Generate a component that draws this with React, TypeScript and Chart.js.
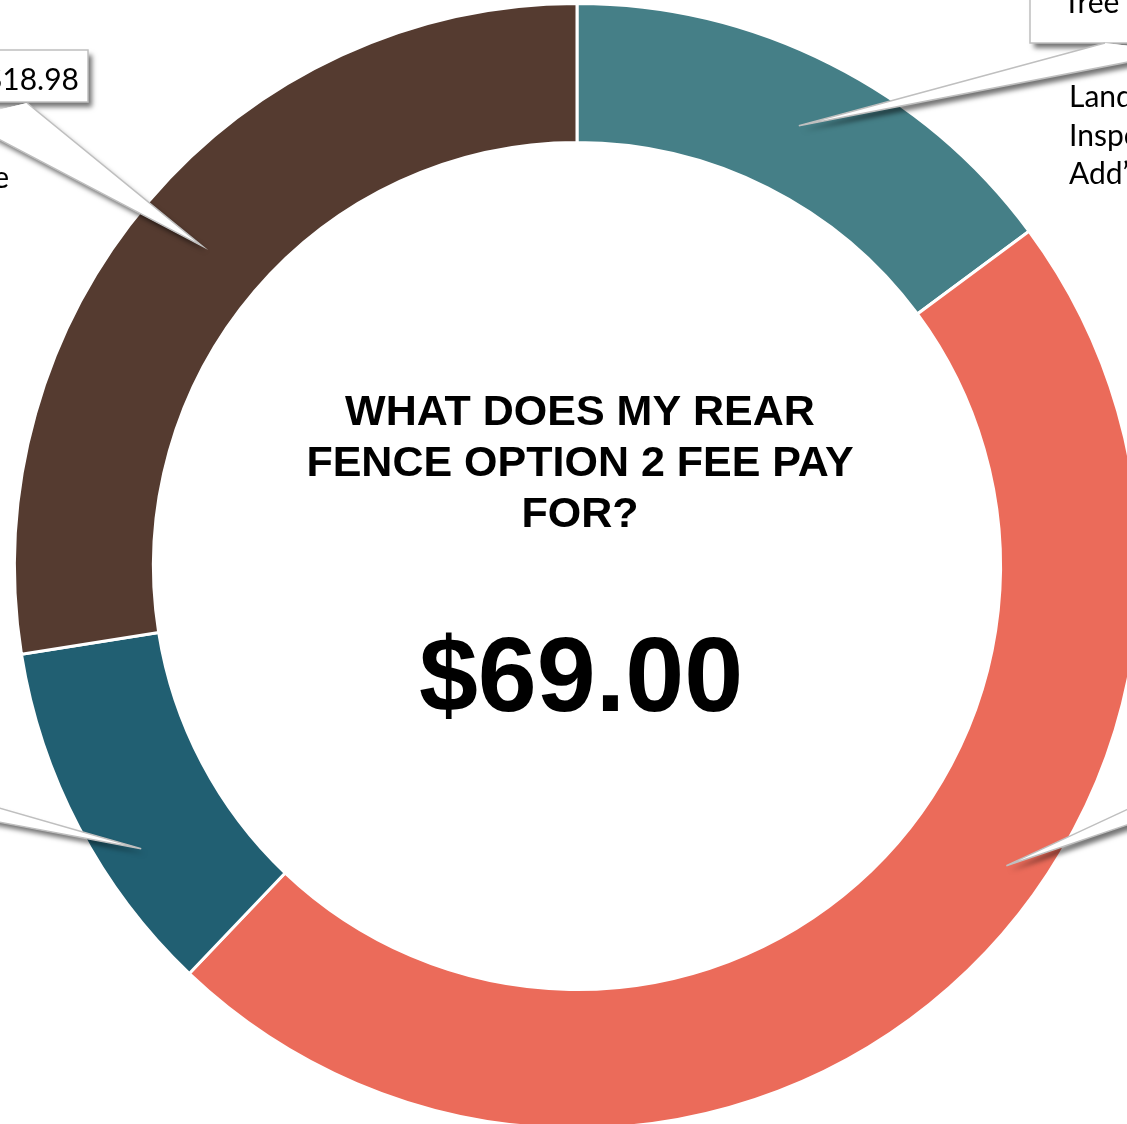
import React, { useEffect, useRef } from "react";
import { Chart, registerables } from "chart.js";

Chart.register(...registerables);

// ---- data ----
const categories = [
  "Tree / Landscape Inspection",
  "Fence Permit Review",
  "Zoning Review",
  "Base Administrative Fee",
];
const values = [10.25, 32.6, 7.17, 18.98];
const colors = ["#457F87", "#EB6B5A", "#215F72", "#553B30"];
const titleLines = ["WHAT DOES MY REAR", "FENCE OPTION 2 FEE PAY", "FOR?"];
const totalLabel = "$69.00";

// ---- callout styling (positions of the off-chart label boxes) ----
type TextItem = { t: string; x: number; y: number; align: CanvasTextAlign };
type Callout = {
  index: number;
  f: number;
  g: number;
  base: [number, number][];
  box?: { x: number; y: number; w: number; h: number };
  texts?: TextItem[];
};

const callouts: Callout[] = [
  {
    index: 0,
    f: 0.5,
    g: 0.5,
    base: [
      [1105, 43],
      [1180, 52],
    ],
    box: { x: 1030, y: -60, w: 220, h: 103 },
    texts: [
      { t: "Tree  Protection", x: 1063, y: 13, align: "left" },
      { t: "Landscape", x: 1069, y: 107, align: "left" },
      { t: "Inspection", x: 1069, y: 146, align: "left" },
      { t: "Add\u2019l Review", x: 1069, y: 184, align: "left" },
    ],
  },
  {
    index: 1,
    f: 0.42,
    g: 0.72,
    base: [
      [1180, 785],
      [1180, 807],
    ],
  },
  {
    index: 2,
    f: 0.36,
    g: 0.69,
    base: [
      [-60, 791],
      [-60, 811],
    ],
  },
  {
    index: 3,
    f: 0.5,
    g: 0.5,
    base: [
      [27, 103],
      [-40, 119],
    ],
    box: { x: -220, y: 50, w: 308, h: 52 },
    texts: [
      { t: "$" + values[3].toFixed(2), x: 79, y: 90, align: "right" },
      { t: "Base Fee", x: 9, y: 188, align: "right" },
    ],
  },
];

const calloutPlugin = {
  id: "callouts",
  afterDraw(chart: any) {
    const ctx: CanvasRenderingContext2D = chart.ctx;
    const meta = chart.getDatasetMeta(0);

    const shapes = callouts.map((c) => {
      const arc = meta.data[c.index];
      const p = arc.getProps(
        ["x", "y", "startAngle", "endAngle", "innerRadius", "outerRadius"],
        true
      );
      const a = p.startAngle + c.f * (p.endAngle - p.startAngle);
      const r = p.innerRadius + c.g * (p.outerRadius - p.innerRadius);
      const tip = [p.x + r * Math.cos(a), p.y + r * Math.sin(a)];
      return { c, tip };
    });

    const wedgePath = (s: any) => {
      ctx.beginPath();
      ctx.moveTo(s.c.base[0][0], s.c.base[0][1]);
      ctx.lineTo(s.tip[0], s.tip[1]);
      ctx.lineTo(s.c.base[1][0], s.c.base[1][1]);
      ctx.closePath();
    };

    // shadow pass
    ctx.save();
    ctx.shadowColor = "rgba(0,0,0,0.55)";
    ctx.shadowBlur = 5;
    ctx.shadowOffsetX = 4;
    ctx.shadowOffsetY = 5;
    ctx.fillStyle = "#ffffff";
    shapes.forEach((s) => {
      if (s.c.box) {
        const b = s.c.box;
        ctx.fillRect(b.x, b.y, b.w, b.h);
      }
      wedgePath(s);
      ctx.fill();
    });
    ctx.restore();

    // clean fill + outlines
    ctx.save();
    ctx.fillStyle = "#ffffff";
    ctx.strokeStyle = "#BFBFBF";
    ctx.lineWidth = 1.5;
    shapes.forEach((s) => {
      if (s.c.box) {
        const b = s.c.box;
        ctx.fillRect(b.x, b.y, b.w, b.h);
        ctx.strokeRect(b.x, b.y, b.w, b.h);
      }
      wedgePath(s);
      ctx.fill();
      ctx.beginPath();
      ctx.moveTo(s.c.base[0][0], s.c.base[0][1]);
      ctx.lineTo(s.tip[0], s.tip[1]);
      ctx.lineTo(s.c.base[1][0], s.c.base[1][1]);
      ctx.stroke();
    });
    ctx.restore();

    // texts
    ctx.save();
    ctx.fillStyle = "#000000";
    ctx.font = "30px Lato, 'Open Sans', sans-serif";
    ctx.textBaseline = "alphabetic";
    shapes.forEach((s) => {
      (s.c.texts || []).forEach((t) => {
        ctx.textAlign = t.align;
        ctx.fillText(t.t, t.x, t.y);
      });
    });
    ctx.restore();

    // center title + total
    ctx.save();
    ctx.fillStyle = "#000000";
    ctx.textAlign = "center";
    ctx.textBaseline = "alphabetic";
    ctx.font = "bold 43px 'Liberation Sans', Arial, sans-serif";
    const cx = 580;
    titleLines.forEach((line, i) => {
      ctx.fillText(line, cx, 425 + i * 51);
    });
    ctx.font = "bold 106px 'Liberation Sans', Arial, sans-serif";
    ctx.fillText(totalLabel, cx + 1, 711);
    ctx.restore();
  },
};

export default function App() {
  const ref = useRef<HTMLCanvasElement | null>(null);

  useEffect(() => {
    if (!ref.current) return;
    const chart = new Chart(ref.current, {
      type: "doughnut",
      data: {
        labels: categories,
        datasets: [
          {
            data: values,
            backgroundColor: colors,
            borderColor: "#ffffff",
            borderWidth: 3,
          },
        ],
      },
      options: {
        responsive: false,
        animation: false,
        cutout: "75.3%",
        layout: { padding: { left: 13, top: 2, right: 19, bottom: 10 } },
        plugins: {
          legend: { display: false },
          tooltip: { enabled: false },
          title: { display: false },
        },
      },
      plugins: [calloutPlugin],
    });
    return () => chart.destroy();
  }, []);

  return (
    <div
      style={{
        position: "fixed",
        left: 0,
        top: 0,
        width: 1127,
        height: 1124,
        overflow: "hidden",
        background: "#ffffff",
      }}
    >
      <canvas ref={ref} width={1160} height={1140} style={{ display: "block" }} />
    </div>
  );
}
